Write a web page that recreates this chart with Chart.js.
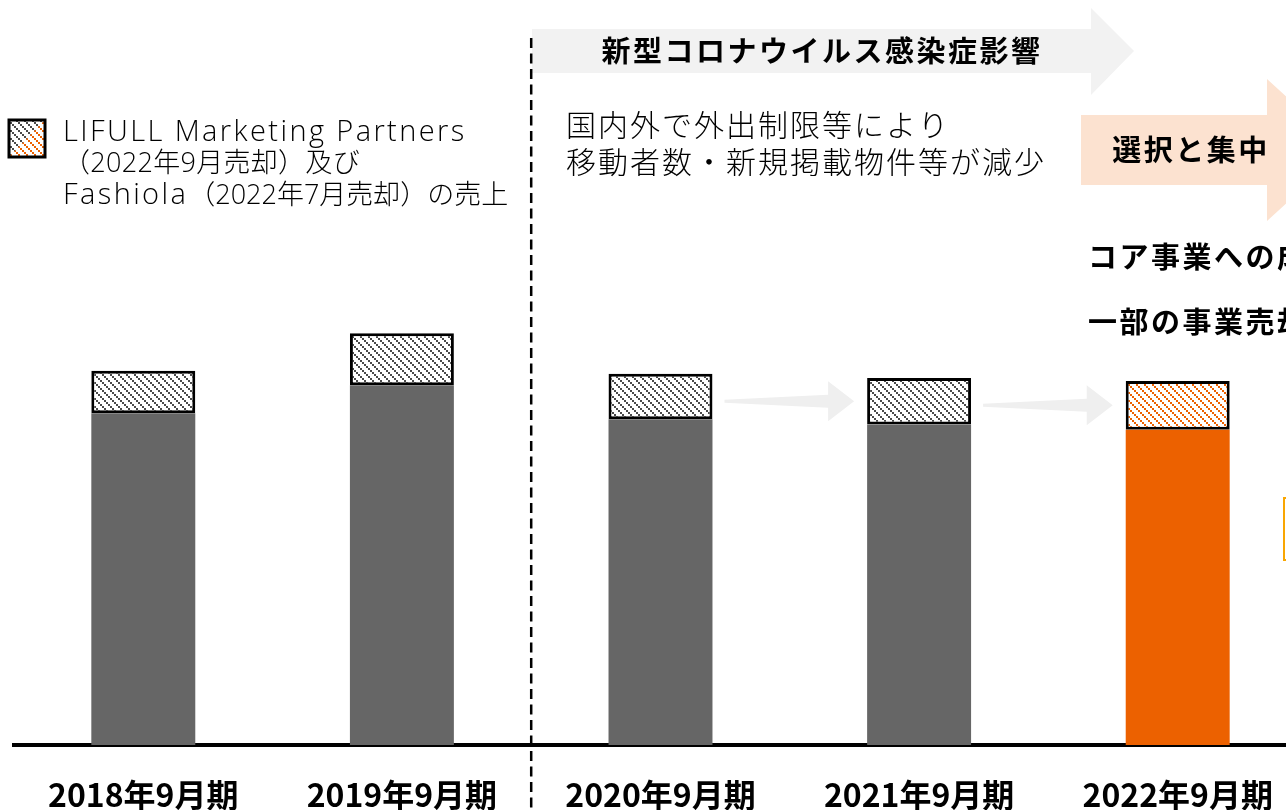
<!DOCTYPE html>
<html lang="ja">
<head>
<meta charset="utf-8">
<script src="https://cdn.jsdelivr.net/npm/chart.js@4.4.0/dist/chart.umd.min.js"></script>
<style>
  html, body { margin: 0; padding: 0; background: #fff; overflow: hidden; }
  #wrap { position: relative; width: 1310px; height: 810px; }
</style>
</head>
<body>
<div id="wrap"><canvas id="sales-chart"></canvas></div>
<script>
// 売上（億円、画像からの目安）
var labels = ['2018年9月期', '2019年9月期', '2020年9月期', '2021年9月期', '2022年9月期'];
var coreSales = [320, 347, 314, 309, 304];   // 継続事業
var soldSales = [41, 50, 44, 45, 47];        // LIFULL Marketing Partners / Fashiola
var yMax = 675;

var GRAY = '#666666';
var ORANGE = '#EC6100';
var JP = '"Noto Sans CJK JP", "Noto Sans", sans-serif';
var LATIN = '300 29px "Open Sans", ' + JP;
var LATIN_JP = '300 27px "Open Sans", ' + JP;

var ctx = document.getElementById('sales-chart').getContext('2d');

// diagonal dotted hatch like the office pattern
function makeHatch(color) {
    var tile = document.createElement('canvas');
    tile.width = 8;
    tile.height = 8;
    var t = tile.getContext('2d');
    t.fillStyle = '#fff';
    t.fillRect(0, 0, 8, 8);
    t.fillStyle = color;
    for (var i = 0; i < 8; i += 2) {
        t.fillRect(i, i, 2, 2);
    }
    return ctx.createPattern(tile, 'repeat');
}
var grayHatch = makeHatch('#4a4a4a');
var orangeHatch = makeHatch(ORANGE);

var baseColors = labels.map((l, i) => i === labels.length - 1 ? ORANGE : GRAY);
var hatchColors = labels.map((l, i) => i === labels.length - 1 ? orangeHatch : grayHatch);

function arrowShape(c, pts, color) {
    c.fillStyle = color;
    c.beginPath();
    c.moveTo(pts[0][0], pts[0][1]);
    for (var i = 1; i < pts.length; i++) c.lineTo(pts[i][0], pts[i][1]);
    c.closePath();
    c.fill();
}

// write text pieces one after another, each with its own font
function writeRuns(c, runs, x, y) {
    runs.forEach(run => {
        c.font = run[1];
        c.letterSpacing = run[2];
        c.fillText(run[0], x, y);
        x += c.measureText(run[0]).width;
    });
}

var decorPlugin = {
    id: 'decor',
    afterDraw: function(chart) {
        var c = chart.ctx;
        var xs = chart.scales.x;
        var ys = chart.scales.y;
        c.save();

        // COVID arrow at the top
        arrowShape(c, [[532, 29], [1091, 29], [1091, 8], [1134, 51], [1091, 95], [1091, 73], [532, 73]], '#F2F2F2');
        // 選択と集中 arrow
        arrowShape(c, [[1081, 115], [1267, 115], [1267, 79], [1345, 150], [1267, 221], [1267, 185], [1081, 185]], '#FCE2D0');

        // small arrows between the bars
        var meta = chart.getDatasetMeta(1);
        for (var i = 2; i < labels.length - 1; i++) {
            var half = meta.data[i].width / 2;
            var x0 = xs.getPixelForValue(i) + half + 12;
            var tip = xs.getPixelForValue(i + 1) - half - 13;
            var xh = tip - 26;
            var cy = ys.getPixelForValue(coreSales[i + 1] + soldSales[i + 1] / 2);
            arrowShape(c, [[x0, cy - 1.5], [xh, cy - 6.5], [xh, cy - 20], [tip, cy], [xh, cy + 20], [xh, cy + 6.5], [x0, cy + 1.5]], '#EFEFEF');
        }

        // dashed separator between 2019 and 2020
        var sepX = (xs.getPixelForValue(1) + xs.getPixelForValue(2)) / 2;
        c.strokeStyle = '#000';
        c.lineWidth = 2.5;
        c.setLineDash([10, 5.5]);
        c.beginPath();
        c.moveTo(sepX, 38);
        c.lineTo(sepX, 810);
        c.stroke();
        c.setLineDash([]);

        // orange box cut at the right edge
        c.strokeStyle = '#F9A602';
        c.lineWidth = 2;
        c.strokeRect(1284, 498, 200, 62);

        // legend box
        c.save();
        c.beginPath();
        c.moveTo(9, 120); c.lineTo(45, 120); c.lineTo(9, 157); c.closePath();
        c.fillStyle = grayHatch;
        c.fill();
        c.beginPath();
        c.moveTo(45, 120); c.lineTo(45, 157); c.lineTo(9, 157); c.closePath();
        c.fillStyle = orangeHatch;
        c.fill();
        c.restore();
        c.strokeStyle = '#000';
        c.lineWidth = 3;
        c.strokeRect(9, 120, 36, 37);

        // texts
        c.fillStyle = '#000';
        c.textBaseline = 'middle';
        c.textAlign = 'left';
        writeRuns(c, [['LIFULL Marketing Partners', LATIN, '2.4px']], 63, 133);
        writeRuns(c, [['（2022年9月売却）及び', LATIN_JP, '0.3px']], 63, 164);
        writeRuns(c, [['Fashiola', LATIN, '2.4px'], ['（2022年7月売却）の売上', LATIN_JP, '0px']], 63, 196);

        c.font = '300 30px ' + JP;
        c.letterSpacing = '2px';
        c.fillText('国内外で外出制限等により', 566, 125);
        c.fillText('移動者数・新規掲載物件等が減少', 566, 162);

        c.font = 'bold 29px ' + JP;
        c.letterSpacing = '2.5px';
        c.textAlign = 'center';
        c.fillText('新型コロナウイルス感染症影響', 822, 51);
        c.fillText('選択と集中', 1191, 150);

        c.textAlign = 'left';
        c.fillText('コア事業への成長投資', 1088, 257);
        c.fillText('一部の事業売却', 1088, 322);
        c.restore();
    }
};

var salesChart = new Chart(ctx, {
    type: 'bar',
    data: {
        labels: labels,
        datasets: [{
            label: '売上',
            data: coreSales,
            backgroundColor: baseColors,
            borderWidth: 0
        }, {
            label: 'LIFULL Marketing Partners（2022年9月売却）及びFashiola（2022年7月売却）の売上',
            data: soldSales,
            backgroundColor: hatchColors,
            borderColor: '#000',
            borderWidth: 3,
            borderSkipped: false
        }]
    },
    options: {
        responsive: true,
        maintainAspectRatio: false,
        animation: false,
        barPercentage: 0.402,
        categoryPercentage: 1,
        // tick padding is counted twice in the axis height, take one back
        layout: { padding: { left: 14, right: 3, top: 45, bottom: -35 } },
        plugins: {
            legend: { display: false },
            tooltip: { enabled: false }
        },
        scales: {
            x: {
                stacked: true,
                grid: { display: false, drawTicks: false },
                border: { display: true, color: '#000', width: 4 },
                ticks: {
                    color: '#000',
                    padding: 34,
                    maxRotation: 0,
                    autoSkip: false,
                    font: { family: JP, size: 32, weight: 'bold', lineHeight: 1 }
                }
            },
            y: {
                stacked: true,
                display: false,
                min: 0,
                max: yMax
            }
        }
    },
    plugins: [decorPlugin]
});
</script>
</body>
</html>
